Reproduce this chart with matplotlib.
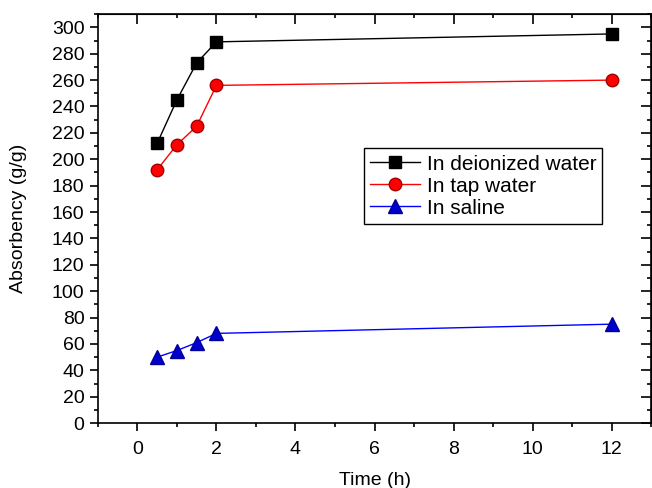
import numpy as np
import matplotlib.pyplot as plt
from matplotlib.ticker import MultipleLocator

plt.rcParams['font.family'] = ['Liberation Sans', 'DejaVu Sans']

time_h = [0.5, 1, 1.5, 2, 12]
deionized = [212, 245, 273, 289, 295]
tap = [192, 211, 225, 256, 260]
saline = [50, 55, 61, 68, 75]

fig = plt.figure(figsize=(6.52, 4.88), dpi=100)
ax = fig.add_axes([0.150, 0.133, 0.849, 0.838])

ax.plot(time_h, deionized, '-s', color='black', ms=8, lw=1, label='In deionized water')
ax.plot(time_h, tap, '-o', color='red', mfc='red', mec='#a00000', ms=9, lw=1, label='In tap water')
ax.plot(time_h, saline, '-^', color='blue', mfc='#0000cc', mec='#000099', ms=9.5, lw=1, label='In saline')

ax.set_xlim(-1, 13)
ax.set_ylim(0, 310)
ax.xaxis.set_major_locator(MultipleLocator(2))
ax.xaxis.set_minor_locator(MultipleLocator(1))
ax.yaxis.set_major_locator(MultipleLocator(20))
ax.yaxis.set_minor_locator(MultipleLocator(10))
ax.tick_params(which='both', direction='out', top=False, right=False, labelsize=14, width=1.2)
ax.tick_params(which='major', length=6)
ax.tick_params(which='minor', length=3)
ax.tick_params(axis='x', which='major', pad=7)

# inward ticks on the top and right edges
ax2 = ax.secondary_xaxis('top')
ax2.xaxis.set_major_locator(MultipleLocator(2))
ax2.xaxis.set_minor_locator(MultipleLocator(1))
ax2.tick_params(which='both', direction='in', labeltop=False, width=1.2)
ax2.tick_params(which='major', length=7)
ax2.tick_params(which='minor', length=3)
ax3 = ax.secondary_yaxis('right')
ax3.yaxis.set_major_locator(MultipleLocator(20))
ax3.yaxis.set_minor_locator(MultipleLocator(10))
ax3.tick_params(which='both', direction='in', labelright=False, width=1.2)
ax3.tick_params(which='major', length=7)
ax3.tick_params(which='minor', length=3)

for s in ax.spines.values():
    s.set_linewidth(1.2)

ax.set_xlabel('Time (h)', fontsize=14, labelpad=10)
ax.set_ylabel('Absorbency (g/g)', fontsize=14, labelpad=18)

leg = ax.legend(loc='upper left', bbox_to_anchor=(0.481, 0.672), borderaxespad=0,
                fontsize=15, fancybox=False, edgecolor='black', framealpha=1,
                handlelength=2.4, borderpad=0.3, labelspacing=0.15, handletextpad=0.3)
leg.get_frame().set_linewidth(1)

plt.savefig('out.png')
